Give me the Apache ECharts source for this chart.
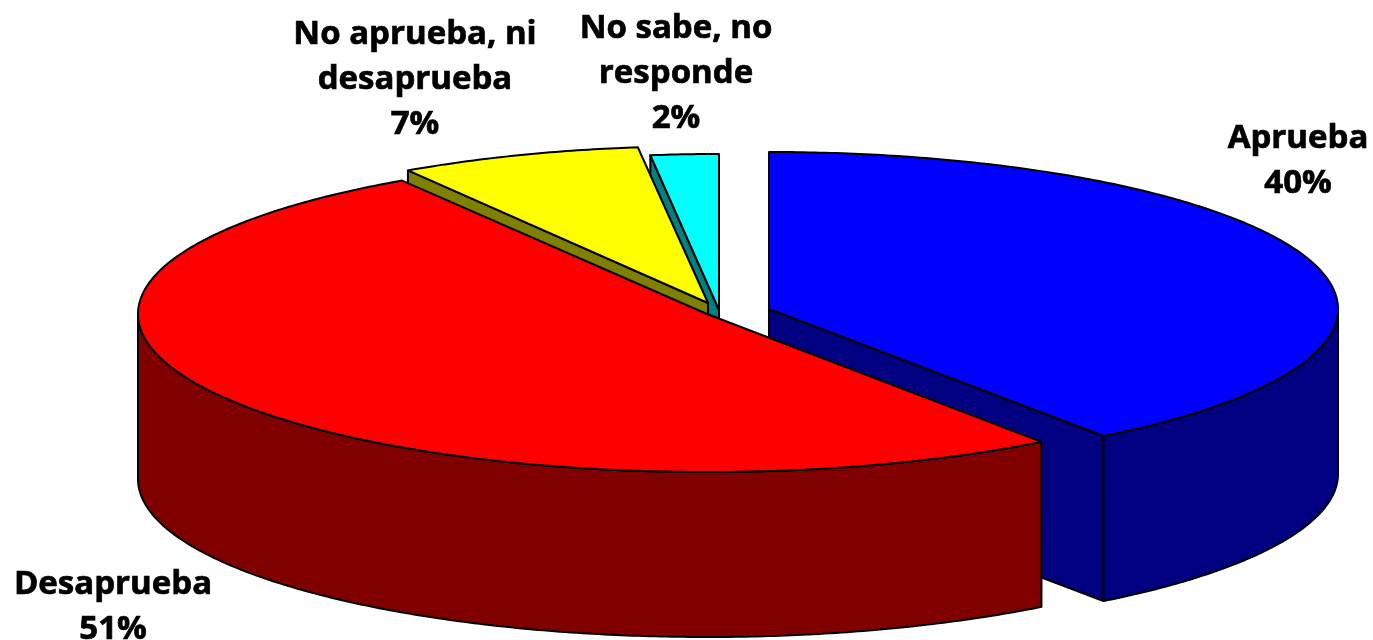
<!DOCTYPE html>
<html>
<head>
<meta charset="utf-8">
<style>html,body{margin:0;padding:0;background:#fff}#c{width:1373px;height:640px}</style>
<script src="https://cdn.jsdelivr.net/npm/echarts@6/dist/echarts.min.js"></script>
</head>
<body>
<div id="c"></div>
<script>
var categories = ['Aprueba', 'Desaprueba', 'No aprueba, ni\ndesaprueba', 'No sabe, no\nresponde'];
var values = [40, 51, 7, 2];
var topColors = ['#0000ff', '#ff0000', '#ffff00', '#00ffff'];
var sideColors = ['#000080', '#800000', '#808000', '#008080'];

// layout of the exploded slices and their labels (pixels)
var apexX = [769, 707, 708, 719];
var apexY = [309, 314, 303, 310];
var radiusX = [569, 569, 560, 548];
var radiusY = [157, 158, 157, 156];
var depth = 165;
var labelX = [1298, 113, 415, 676];
var labelY = [161, 607, 80, 74];
var drawOrder = [3, 2, 0, 1];

var total = values.reduce(function (a, b) { return a + b; }, 0);
var starts = [];
values.reduce(function (acc, v, i) { starts[i] = acc; return acc + v; }, 0);

function renderSlice(params, api) {
  var i = drawOrder[params.dataIndex];
  var startA = api.value(1) / total * 2 * Math.PI;
  var endA = (api.value(1) + api.value(0)) / total * 2 * Math.PI;
  var cx = apexX[i], cy = apexY[i], a = radiusX[i], b = radiusY[i];
  function pt(t, drop) {
    return [cx + a * Math.sin(t), cy - b * Math.cos(t) + (drop || 0)];
  }
  function arc(t0, t1, drop) {
    var n = Math.max(2, Math.ceil(Math.abs(t1 - t0) / 0.01)), out = [];
    for (var k = 0; k <= n; k++) out.push(pt(t0 + (t1 - t0) * k / n, drop));
    return out;
  }
  function poly(points, fill, z2) {
    return {
      type: 'polygon', z2: z2,
      shape: { points: points },
      style: { fill: fill, stroke: '#000', lineWidth: 2, lineJoin: 'round' }
    };
  }
  var children = [];
  var side = sideColors[i];
  var base = params.dataIndex * 10;
  // radial cut faces that turn towards the viewer
  [[startA, Math.sin(startA) < -1e-6], [endA, Math.sin(endA) > 1e-6]].forEach(function (f) {
    if (f[1]) {
      var p = pt(f[0]);
      var q = pt(f[0], depth);
      children.push(poly([[cx, cy], p, q, [cx, cy + depth]], side, base + 1));
    }
  });
  // outer wall on the front half
  var w0 = Math.max(startA, Math.PI / 2), w1 = Math.min(endA, Math.PI * 1.5);
  if (w1 > w0) {
    children.push(poly(arc(w0, w1, 0).concat(arc(w1, w0, depth)), side, base + 2));
  }
  // top face
  children.push(poly([[cx, cy]].concat(arc(startA, endA, 0)), topColors[i], base + 3));
  // label
  children.push({
    type: 'text', z2: 100,
    style: {
      x: labelX[i], y: labelY[i],
      text: categories[i] + '\n' + api.value(0) + '%',
      fill: '#000',
      stroke: '#000',
      lineWidth: 0.7,
      font: 'bold 33px "Open Sans", sans-serif',
      lineHeight: 45,
      align: 'center',
      verticalAlign: 'middle'
    }
  });
  return { type: 'group', children: children };
}

var chart = echarts.init(document.getElementById('c'), null, { renderer: 'canvas' });
chart.setOption({
  animation: false,
  backgroundColor: '#ffffff',
  series: [{
    type: 'custom',
    coordinateSystem: 'none',
    silent: true,
    renderItem: renderSlice,
    data: drawOrder.map(function (i) { return [values[i], starts[i]]; })
  }]
});
</script>
</body>
</html>
